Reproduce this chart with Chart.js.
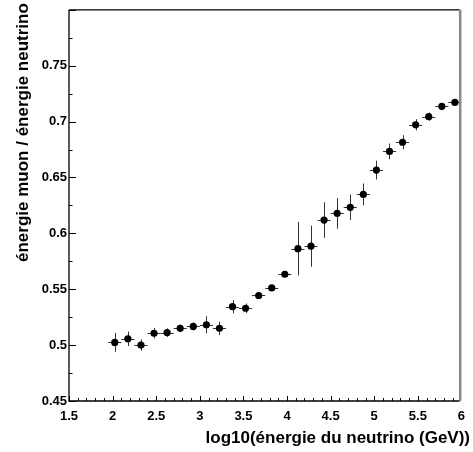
<!DOCTYPE html>
<html>
<head>
<meta charset="utf-8">
<script src="https://cdn.jsdelivr.net/npm/chart.js@4/dist/chart.umd.min.js"></script>
<style>
  html, body { margin: 0; padding: 0; background: #fff; }
  canvas { display: block; }
</style>
</head>
<body>
<canvas id="ratioChart" width="473" height="452"></canvas>
<script>
// centres des bins en log10(E) et rapport moyen E_muon / E_neutrino
const logEnergy = [2.025, 2.175, 2.325, 2.475, 2.625, 2.775, 2.925, 3.075, 3.225, 3.375,
                   3.525, 3.675, 3.825, 3.975, 4.125, 4.275, 4.425, 4.575, 4.725, 4.875,
                   5.025, 5.175, 5.325, 5.475, 5.625, 5.775, 5.925];
const ratio = [0.5024, 0.5056, 0.5000, 0.5106, 0.5112, 0.5150, 0.5167, 0.5182, 0.5150, 0.5344,
               0.5330, 0.5444, 0.5512, 0.5634, 0.5863, 0.5885, 0.6119, 0.6179, 0.6233, 0.6348,
               0.6566, 0.6733, 0.6815, 0.6971, 0.7044, 0.7136, 0.7171];
// erreurs verticales
const ratioErr = [0.0085, 0.0065, 0.0050, 0.0047, 0.0038, 0.0034, 0.0036, 0.0076, 0.0060, 0.0059,
                  0.0042, 0.0030, 0.0028, 0.0020, 0.0240, 0.0184, 0.0159, 0.0137, 0.0115, 0.0098,
                  0.0084, 0.0070, 0.0063, 0.0050, 0.0037, 0.0030, 0.0022];
const binHalfWidth = 0.075;

const xTickValues = [1.5, 2, 2.5, 3, 3.5, 4, 4.5, 5, 5.5, 6];
const xTickLabels = ["1.5", "2", "2.5", "3", "3.5", "4", "4.5", "5", "5.5", "6"];
const yTickValues = [0.45, 0.5, 0.55, 0.6, 0.65, 0.7, 0.75];
const yTickLabels = ["0.45", "0.5", "0.55", "0.6", "0.65", "0.7", "0.75"];

const xTitle = "log10(énergie du neutrino (GeV))";
const yTitle = "énergie muon / énergie neutrino";

const FONT = '"Liberation Sans", Arial, Helvetica, sans-serif';

// barres d'erreur + cadre style ROOT
const rootStyle = {
  id: "rootStyle",
  beforeDatasetsDraw(chart) {
    const { ctx, scales: { x, y } } = chart;
    ctx.save();
    ctx.strokeStyle = "#333";
    ctx.lineWidth = 1;
    ratio.forEach((v, i) => {
      const px = Math.round(x.getPixelForValue(logEnergy[i])) + 0.5;
      const py = Math.round(y.getPixelForValue(v)) + 0.5;
      ctx.beginPath();
      ctx.moveTo(x.getPixelForValue(logEnergy[i] - binHalfWidth), py);
      ctx.lineTo(x.getPixelForValue(logEnergy[i] + binHalfWidth), py);
      ctx.moveTo(px, y.getPixelForValue(v - ratioErr[i]));
      ctx.lineTo(px, y.getPixelForValue(v + ratioErr[i]));
      ctx.stroke();
    });
    ctx.restore();
  },
  afterDraw(chart) {
    const { ctx, chartArea: a, scales: { x, y } } = chart;
    ctx.save();
    ctx.strokeStyle = "#000";
    ctx.lineWidth = 1.3;
    // cadre
    ctx.beginPath();
    ctx.moveTo(a.left, a.top);
    ctx.lineTo(a.right, a.top);
    ctx.moveTo(a.left, a.top);
    ctx.lineTo(a.left, a.bottom);
    ctx.lineTo(a.right, a.bottom);
    ctx.stroke();
    ctx.strokeStyle = "#888";
    ctx.lineWidth = 2.5;
    ctx.beginPath();
    ctx.moveTo(a.right + 0.5, a.top);
    ctx.lineTo(a.right + 0.5, a.bottom);
    ctx.stroke();

    // graduations vers l'intérieur
    ctx.strokeStyle = "#000";
    ctx.lineWidth = 1;
    ctx.beginPath();
    for (let k = 0; k <= 45; k++) {
      const v = 1.5 + k * 0.1;
      if (v > x.max + 1e-9) break;
      const px = Math.round(x.getPixelForValue(v)) + 0.5;
      const len = k % 5 === 0 ? 5 : 3;
      ctx.moveTo(px, a.bottom);
      ctx.lineTo(px, a.bottom - len);
    }
    for (let k = 0; k <= 14; k++) {
      const v = 0.45 + k * 0.025;
      if (v > y.max + 1e-9) break;
      const py = Math.round(y.getPixelForValue(v)) + 0.5;
      const len = k % 2 === 0 ? 7 : 3.5;
      ctx.moveTo(a.left, py);
      ctx.lineTo(a.left + len, py);
    }
    ctx.stroke();

    // titres des axes
    ctx.fillStyle = "#000";
    ctx.font = "bold 17px " + FONT;
    ctx.textAlign = "right";
    ctx.textBaseline = "alphabetic";
    ctx.fillText(xTitle, 470, 443);
    ctx.translate(28, 262);
    ctx.rotate(-Math.PI / 2);
    ctx.textAlign = "left";
    ctx.fillText(yTitle, 0, 0);
    ctx.restore();
  }
};

new Chart(document.getElementById("ratioChart"), {
  type: "scatter",
  data: {
    datasets: [
      {
        label: "E_muon / E_neutrino",
        data: logEnergy.map((e, i) => ({ x: e, y: ratio[i] })),
        backgroundColor: "#000",
        borderWidth: 0,
        pointRadius: 3.6,
        pointHoverRadius: 3.6,
      },
    ],
  },
  options: {
    responsive: false,
    animation: false,
    events: [],
    layout: { padding: { top: 4, right: 10, left: 0, bottom: 0 } },
    plugins: {
      legend: { display: false },
      tooltip: { enabled: false },
    },
    scales: {
      x: {
        type: "linear",
        min: 1.5,
        max: 5.98,
        afterBuildTicks: (scale) => {
          scale.ticks = xTickValues.map((v) => ({ value: v }));
        },
        afterFit: (scale) => { scale.height = 51; },
        grid: { display: false, drawTicks: false },
        border: { display: false },
        ticks: {
          autoSkip: false,
          maxRotation: 0,
          padding: 8,
          color: "#000",
          font: { family: FONT, size: 13, weight: "bold" },
          callback: (v) => xTickLabels[xTickValues.indexOf(v)],
        },
      },
      y: {
        type: "linear",
        min: 0.45,
        max: 0.8,
        afterBuildTicks: (scale) => {
          scale.ticks = yTickValues.map((v) => ({ value: v }));
        },
        afterFit: (scale) => { scale.width = 69; },
        grid: { display: false, drawTicks: false },
        border: { display: false },
        ticks: {
          autoSkip: false,
          padding: 2,
          color: "#000",
          font: { family: FONT, size: 13, weight: "bold" },
          callback: (v) => yTickLabels[yTickValues.indexOf(v)],
        },
      },
    },
  },
  plugins: [rootStyle],
});
</script>
</body>
</html>
